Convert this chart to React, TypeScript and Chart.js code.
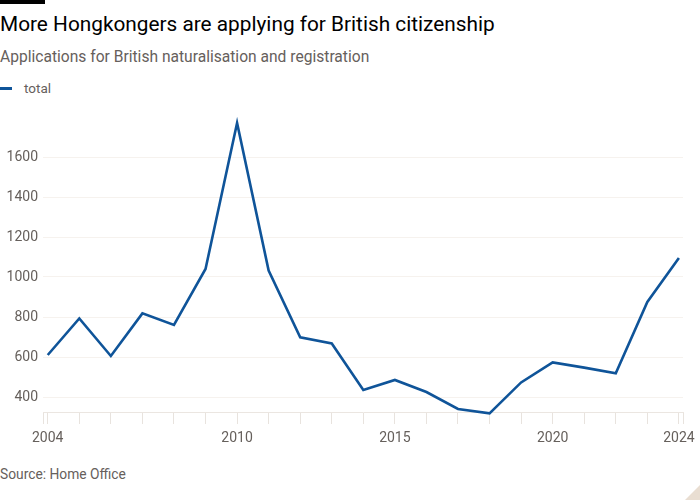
import React, { useEffect, useRef } from "react";
import { Chart, registerables } from "chart.js";

Chart.register(...registerables);

const years = [2004, 2005, 2006, 2007, 2008, 2009, 2010, 2011, 2012, 2013, 2014, 2015, 2016, 2017, 2018, 2019, 2020, 2021, 2022, 2023, 2024];
const totals = [610, 793, 605, 818, 760, 1040, 1770, 1032, 698, 668, 435, 485, 425, 340, 318, 473, 573, 547, 518, 875, 1095];
const xLabelYears = [2004, 2010, 2015, 2020, 2024];
const yTicks = [400, 600, 800, 1000, 1200, 1400, 1600];

const FONT = "Roboto, 'Noto Sans', sans-serif";
const GREY = "#66605c";

export default function App() {
  const ref = useRef<HTMLCanvasElement | null>(null);

  useEffect(() => {
    document.body.style.margin = "0";
    document.body.style.background = "#ffffff";
    const canvas = ref.current;
    if (!canvas) return;
    const chart = new Chart(canvas, {
      type: "line",
      data: {
        datasets: [
          {
            label: "total",
            data: years.map((y, i) => ({ x: y, y: totals[i] })),
            borderColor: "#0f5499",
            borderWidth: 2.6,
            pointRadius: 0,
            tension: 0,
            fill: false,
            clip: 6,
          },
        ],
      },
      options: {
        animation: false,
        responsive: false,
        maintainAspectRatio: false,
        layout: { padding: { top: 23, right: 17, left: 0, bottom: 0 } },
        plugins: { legend: { display: false }, tooltip: { enabled: false }, title: { display: false } },
        scales: {
          x: {
            type: "linear",
            min: 2003.85,
            max: 2024.13,
            afterBuildTicks: (scale: any) => {
              scale.ticks = [2003.85, ...years, 2024.13].map((v) => ({ value: v }));
            },
            afterFit: (scale: any) => {
              scale.height = 48;
            },
            grid: {
              drawOnChartArea: false,
              drawTicks: true,
              tickLength: 12,
              color: "#e8e3de",
            },
            border: { display: true, color: "#ebe6e1", width: 1 },
            ticks: {
              autoSkip: false,
              maxRotation: 0,
              padding: 6,
              color: GREY,
              font: { family: FONT, size: 14 },
              callback: (v: any) => (xLabelYears.includes(Number(v)) ? String(v) : ""),
            },
          },
          y: {
            type: "linear",
            min: 325,
            max: 1770,
            afterBuildTicks: (scale: any) => {
              scale.ticks = yTicks.map((v) => ({ value: v }));
            },
            afterFit: (scale: any) => {
              scale.width = 43;
            },
            grid: {
              color: "#f6f2ee",
              drawTicks: false,
              lineWidth: 1,
            },
            border: { display: false },
            ticks: {
              padding: 5,
              color: GREY,
              font: { family: FONT, size: 14 },
              callback: (v: any) => String(v),
            },
          },
        },
      },
    });
    return () => chart.destroy();
  }, []);

  return (
    <div style={{ position: "relative", width: 700, height: 500, background: "#fff", overflow: "hidden", fontFamily: FONT }}>
      <div style={{ position: "absolute", left: 0, top: 0, width: 45, height: 4, background: "#000" }} />
      <div style={{ position: "absolute", left: 0, top: 10, fontSize: 20.8, color: "#000", whiteSpace: "nowrap", lineHeight: "28px" }}>
        More Hongkongers are applying for British citizenship
      </div>
      <div style={{ position: "absolute", left: 0, top: 46, fontSize: 15.6, color: GREY, whiteSpace: "nowrap", lineHeight: "22px" }}>
        Applications for British naturalisation and registration
      </div>
      <div style={{ position: "absolute", left: 0, top: 87, width: 12, height: 3, background: "#0f5499" }} />
      <div style={{ position: "absolute", left: 24, top: 79, fontSize: 13.5, color: GREY, whiteSpace: "nowrap", lineHeight: "18px" }}>
        total
      </div>
      <canvas ref={ref} width={700} height={360} style={{ position: "absolute", left: 0, top: 100, width: 700, height: 360 }} />
      <div style={{ position: "absolute", left: 0, top: 465, fontSize: 13.8, color: GREY, whiteSpace: "nowrap", lineHeight: "18px" }}>
        Source: Home Office
      </div>
      <div
        style={{
          position: "absolute",
          right: 0,
          bottom: 0,
          width: 0,
          height: 0,
          borderLeft: "15px solid transparent",
          borderBottom: "15px solid #e9ded2",
        }}
      />
    </div>
  );
}
